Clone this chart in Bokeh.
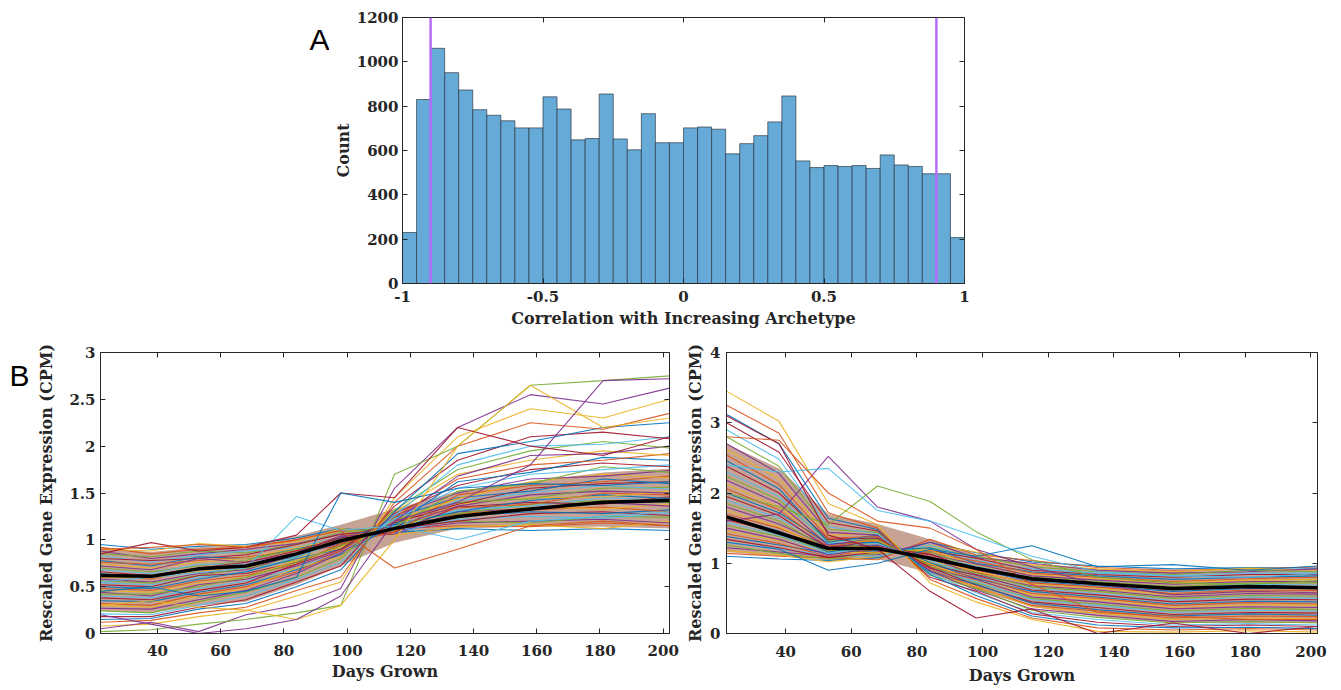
import numpy as np
from bokeh.plotting import figure
from bokeh.layouts import column, row
from bokeh.models import Range1d, LinearAxis, FixedTicker, Label, Span, NumeralTickFormatter
from bokeh.embed import file_html
from bokeh.resources import INLINE

# ---------------- data ----------------
corr_counts = [230, 830, 1061, 951, 873, 784, 759, 734, 702, 702,
               842, 787, 648, 654, 855, 652, 603, 766, 635, 635,
               702, 706, 696, 585, 631, 667, 729, 846, 553, 523,
               532, 528, 532, 519, 580, 535, 528, 495, 495, 207]
corr_range = (-1.0, 1.0)
threshold_lines = [-0.9, 0.9]

days = [22, 38, 53, 68, 84, 98, 115, 135, 158, 181, 202]

increasing_mean = [0.62, 0.61, 0.69, 0.72, 0.85, 0.99, 1.12, 1.25, 1.33, 1.40, 1.42]
# dense core of the gene cloud (lower / upper edge)
increasing_core_low = [0.24, 0.22, 0.30, 0.34, 0.52, 0.72, 0.97, 1.12, 1.14, 1.14, 1.12]
increasing_core_high = [0.92, 0.87, 0.92, 0.94, 1.04, 1.16, 1.33, 1.52, 1.62, 1.72, 1.76]
increasing_genes = [
    [0.95, 0.90, 0.93, 0.95, 1.02, 1.12, 1.08, 1.12, 1.10, 1.12, 1.10],
    [0.92, 0.85, 0.90, 0.92, 1.00, 1.10, 1.12, 1.15, 1.14, 1.18, 1.15],
    [0.90, 0.88, 0.96, 0.93, 0.98, 1.12, 1.05, 1.14, 1.16, 1.12, 1.20],
    [0.88, 0.80, 0.85, 0.90, 0.96, 1.06, 1.10, 1.18, 1.20, 1.22, 1.18],
    [0.85, 0.82, 0.88, 0.86, 0.95, 1.08, 1.14, 1.20, 1.18, 1.25, 1.24],
    [0.83, 0.76, 0.84, 0.88, 0.92, 1.03, 1.08, 1.22, 1.25, 1.23, 1.28],
    [0.80, 0.78, 0.80, 0.84, 0.95, 1.06, 1.12, 1.20, 1.28, 1.30, 1.26],
    [0.78, 0.72, 0.82, 0.80, 0.90, 1.02, 1.16, 1.25, 1.30, 1.28, 1.32],
    [0.76, 0.74, 0.78, 0.82, 0.88, 1.04, 1.10, 1.28, 1.32, 1.35, 1.30],
    [0.74, 0.70, 0.76, 0.80, 0.92, 1.00, 1.14, 1.26, 1.35, 1.33, 1.38],
    [0.72, 0.68, 0.80, 0.76, 0.86, 1.04, 1.06, 1.30, 1.33, 1.40, 1.36],
    [0.70, 0.66, 0.72, 0.78, 0.90, 0.96, 1.18, 1.28, 1.38, 1.42, 1.40],
    [0.68, 0.64, 0.74, 0.74, 0.84, 1.00, 1.12, 1.32, 1.36, 1.45, 1.42],
    [0.66, 0.62, 0.70, 0.76, 0.88, 1.02, 1.08, 1.35, 1.40, 1.38, 1.46],
    [0.64, 0.60, 0.68, 0.72, 0.82, 0.98, 1.16, 1.30, 1.42, 1.48, 1.44],
    [0.62, 0.58, 0.70, 0.70, 0.86, 0.94, 1.20, 1.34, 1.38, 1.50, 1.48],
    [0.60, 0.60, 0.66, 0.72, 0.80, 1.00, 1.10, 1.38, 1.45, 1.46, 1.52],
    [0.58, 0.55, 0.64, 0.68, 0.84, 0.96, 1.14, 1.36, 1.48, 1.52, 1.50],
    [0.56, 0.54, 0.62, 0.70, 0.78, 0.92, 1.22, 1.40, 1.44, 1.55, 1.56],
    [0.54, 0.52, 0.60, 0.66, 0.82, 0.98, 1.12, 1.42, 1.50, 1.58, 1.54],
    [0.52, 0.50, 0.62, 0.64, 0.76, 0.94, 1.18, 1.38, 1.55, 1.60, 1.62],
    [0.50, 0.48, 0.58, 0.66, 0.80, 0.90, 1.24, 1.45, 1.52, 1.65, 1.60],
    [0.48, 0.46, 0.56, 0.62, 0.74, 0.96, 1.08, 1.48, 1.58, 1.62, 1.68],
    [0.46, 0.44, 0.54, 0.60, 0.78, 0.92, 1.20, 1.44, 1.62, 1.70, 1.66],
    [0.44, 0.40, 0.52, 0.58, 0.72, 0.88, 1.26, 1.50, 1.65, 1.68, 1.74],
    [0.42, 0.42, 0.50, 0.60, 0.76, 0.94, 1.14, 1.52, 1.60, 1.78, 1.72],
    [0.40, 0.38, 0.48, 0.56, 0.70, 0.86, 1.22, 1.55, 1.70, 1.75, 1.80],
    [0.38, 0.36, 0.46, 0.54, 0.74, 0.90, 1.28, 1.58, 1.75, 1.82, 1.78],
    [0.35, 0.34, 0.44, 0.52, 0.68, 0.84, 1.16, 1.62, 1.72, 1.88, 1.85],
    [0.32, 0.30, 0.42, 0.50, 0.66, 0.88, 1.24, 1.65, 1.80, 1.85, 1.92],
    [0.30, 0.28, 0.40, 0.48, 0.70, 0.82, 1.30, 1.70, 1.85, 1.95, 1.90],
    [0.27, 0.26, 0.36, 0.46, 0.64, 0.86, 1.20, 1.68, 1.90, 1.92, 2.00],
    [0.24, 0.22, 0.34, 0.44, 0.60, 0.80, 1.32, 1.75, 1.95, 2.05, 1.98],
    [0.21, 0.20, 0.30, 0.40, 0.58, 0.76, 1.26, 1.80, 2.00, 2.02, 2.10],
    [0.18, 0.18, 0.28, 0.36, 0.55, 0.72, 1.36, 1.85, 2.10, 2.15, 2.08],
    [0.15, 0.16, 0.26, 0.32, 0.50, 0.68, 1.30, 1.92, 2.05, 2.20, 2.25],
    [0.12, 0.14, 0.22, 0.28, 0.46, 0.60, 1.40, 2.00, 2.25, 2.18, 2.35],
    [0.08, 0.10, 0.18, 0.24, 0.40, 0.55, 1.45, 2.10, 2.40, 2.30, 2.50],
    [0.05, 0.12, 0.02, 0.20, 0.30, 0.48, 1.55, 2.20, 2.55, 2.45, 2.62],
    [0.02, 0.04, 0.10, 0.15, 0.22, 0.30, 1.70, 2.00, 2.65, 2.70, 2.75],
    [0.55, 0.60, 0.65, 0.70, 1.25, 1.10, 1.15, 1.00, 1.20, 1.25, 1.30],
    [0.85, 0.97, 0.88, 0.92, 1.05, 1.50, 1.45, 2.20, 2.00, 1.90, 2.10],
    [0.45, 0.50, 0.40, 0.45, 0.60, 1.50, 1.40, 1.55, 1.60, 1.58, 1.62],
    [0.90, 0.92, 0.95, 0.92, 1.00, 1.10, 0.70, 0.90, 1.15, 1.20, 1.15],
    [0.30, 0.35, 0.28, 0.25, 0.15, 0.30, 1.00, 2.00, 2.65, 2.20, 2.30],
    [0.20, 0.10, 0.00, 0.05, 0.15, 0.40, 1.20, 1.40, 1.80, 2.70, 2.72],
]

decreasing_mean = [1.66, 1.43, 1.21, 1.21, 1.07, 0.93, 0.78, 0.71, 0.64, 0.67, 0.65]
decreasing_core_low = [1.16, 1.10, 1.04, 1.06, 0.86, 0.62, 0.38, 0.24, 0.15, 0.15, 0.15]
decreasing_core_high = [2.70, 2.35, 1.70, 1.56, 1.34, 1.12, 0.98, 0.92, 0.90, 0.91, 0.92]
decreasing_genes = [
    [1.10, 1.06, 1.04, 1.08, 1.30, 1.15, 1.02, 0.96, 0.92, 0.94, 0.93],
    [1.14, 1.10, 1.08, 1.05, 1.34, 1.12, 1.04, 0.94, 0.90, 0.92, 0.95],
    [1.18, 1.12, 1.02, 1.10, 1.26, 1.16, 0.98, 0.92, 0.88, 0.93, 0.90],
    [1.22, 1.16, 1.10, 1.12, 1.30, 1.08, 1.00, 0.90, 0.86, 0.88, 0.92],
    [1.26, 1.14, 1.06, 1.14, 1.22, 1.10, 0.95, 0.88, 0.84, 0.90, 0.88],
    [1.30, 1.20, 1.12, 1.10, 1.26, 1.04, 0.92, 0.86, 0.82, 0.86, 0.86],
    [1.34, 1.22, 1.08, 1.16, 1.18, 1.07, 0.90, 0.84, 0.80, 0.84, 0.84],
    [1.38, 1.26, 1.14, 1.18, 1.22, 1.00, 0.88, 0.82, 0.77, 0.80, 0.82],
    [1.42, 1.28, 1.10, 1.20, 1.15, 1.03, 0.86, 0.80, 0.74, 0.78, 0.80],
    [1.46, 1.32, 1.16, 1.15, 1.19, 0.97, 0.84, 0.78, 0.72, 0.76, 0.77],
    [1.50, 1.34, 1.12, 1.22, 1.12, 0.99, 0.82, 0.76, 0.70, 0.74, 0.74],
    [1.54, 1.38, 1.18, 1.20, 1.16, 0.93, 0.80, 0.74, 0.67, 0.72, 0.72],
    [1.58, 1.40, 1.14, 1.24, 1.09, 0.96, 0.78, 0.72, 0.64, 0.70, 0.69],
    [1.62, 1.44, 1.20, 1.22, 1.13, 0.90, 0.76, 0.70, 0.62, 0.66, 0.66],
    [1.66, 1.46, 1.16, 1.26, 1.06, 0.92, 0.74, 0.68, 0.60, 0.64, 0.64],
    [1.70, 1.50, 1.22, 1.24, 1.10, 0.87, 0.72, 0.66, 0.57, 0.62, 0.61],
    [1.75, 1.52, 1.18, 1.28, 1.03, 0.89, 0.70, 0.64, 0.55, 0.60, 0.58],
    [1.80, 1.56, 1.24, 1.26, 1.07, 0.84, 0.68, 0.62, 0.52, 0.57, 0.56],
    [1.85, 1.60, 1.20, 1.30, 1.00, 0.86, 0.66, 0.60, 0.50, 0.54, 0.53],
    [1.90, 1.64, 1.26, 1.28, 1.04, 0.81, 0.64, 0.57, 0.47, 0.52, 0.50],
    [1.95, 1.68, 1.22, 1.32, 0.98, 0.83, 0.62, 0.55, 0.45, 0.49, 0.48],
    [2.00, 1.72, 1.28, 1.30, 1.01, 0.78, 0.60, 0.52, 0.42, 0.46, 0.45],
    [2.06, 1.76, 1.24, 1.34, 0.95, 0.80, 0.57, 0.50, 0.40, 0.44, 0.42],
    [2.12, 1.80, 1.30, 1.32, 0.99, 0.75, 0.55, 0.48, 0.37, 0.41, 0.40],
    [2.18, 1.85, 1.26, 1.36, 0.93, 0.77, 0.52, 0.45, 0.35, 0.38, 0.37],
    [2.24, 1.90, 1.32, 1.34, 0.96, 0.72, 0.50, 0.42, 0.32, 0.36, 0.34],
    [2.30, 1.95, 1.28, 1.38, 0.90, 0.74, 0.48, 0.40, 0.30, 0.33, 0.32],
    [2.38, 2.00, 1.34, 1.36, 0.94, 0.69, 0.45, 0.37, 0.27, 0.30, 0.29],
    [2.46, 2.06, 1.30, 1.40, 0.88, 0.70, 0.43, 0.34, 0.25, 0.28, 0.26],
    [2.54, 2.12, 1.36, 1.38, 0.91, 0.66, 0.40, 0.32, 0.22, 0.25, 0.24],
    [2.62, 2.20, 1.40, 1.42, 0.85, 0.67, 0.38, 0.29, 0.20, 0.22, 0.21],
    [2.70, 2.28, 1.44, 1.40, 0.89, 0.62, 0.35, 0.26, 0.17, 0.20, 0.18],
    [2.80, 2.38, 1.48, 1.44, 0.83, 0.64, 0.33, 0.23, 0.15, 0.17, 0.15],
    [2.90, 2.48, 1.52, 1.42, 0.86, 0.58, 0.30, 0.20, 0.12, 0.14, 0.12],
    [3.00, 2.58, 1.58, 1.46, 0.80, 0.60, 0.28, 0.16, 0.10, 0.12, 0.10],
    [3.12, 2.70, 1.64, 1.48, 0.84, 0.54, 0.25, 0.12, 0.08, 0.09, 0.07],
    [3.25, 2.85, 1.72, 1.50, 0.77, 0.50, 0.22, 0.08, 0.05, 0.07, 0.05],
    [3.45, 3.02, 1.85, 1.55, 0.72, 0.45, 0.20, 0.03, 0.02, 0.04, 0.02],
    [1.60, 1.70, 2.52, 1.80, 1.60, 1.20, 0.95, 0.70, 0.55, 0.60, 0.58],
    [2.00, 1.80, 1.55, 2.10, 1.88, 1.45, 1.05, 0.80, 0.72, 0.70, 0.75],
    [2.40, 2.30, 2.35, 1.75, 1.60, 1.38, 1.10, 0.88, 0.82, 0.80, 0.85],
    [3.10, 2.70, 1.40, 1.20, 0.60, 0.22, 0.35, 0.00, 0.15, 0.00, 0.10],
    [1.30, 1.20, 0.90, 1.00, 1.20, 1.10, 1.25, 0.95, 0.98, 0.90, 0.96],
    [2.80, 2.75, 2.00, 1.60, 1.50, 1.20, 0.70, 0.30, 0.25, 0.20, 0.20],
]

# ---------------- style ----------------
TXT = "#262626"
FONT = "DejaVu Serif"
PALETTE = ["#0072BD", "#D95319", "#EDB120", "#7E2F8E", "#77AC30", "#4DBEEE", "#A2142F"]
CORE_FILL = "#A0654F"


def style_axes(p, xticks, yticks, xlabel, ylabel, x_fmt, y_fmt,
               x_lab_std=5, y_lab_std=5, x_tick_std=7, y_tick_std=5):
    p.xgrid.grid_line_color = None
    p.ygrid.grid_line_color = None
    p.outline_line_color = TXT
    p.outline_line_width = 1
    p.outline_line_alpha = 1
    for ax, ticks, lab, fmt, lstd, tstd in ((p.below[0], xticks, xlabel, x_fmt, x_lab_std, x_tick_std),
                                            (p.left[0], yticks, ylabel, y_fmt, y_lab_std, y_tick_std)):
        ax.ticker = FixedTicker(ticks=ticks)
        ax.formatter = fmt
        ax.axis_label = lab
        ax.axis_label_text_font = FONT
        ax.axis_label_text_font_style = "bold"
        ax.axis_label_text_font_size = "16px"
        ax.axis_label_text_color = TXT
        ax.axis_label_standoff = lstd
        ax.major_label_text_font = FONT
        ax.major_label_text_font_style = "bold"
        ax.major_label_text_font_size = "15px"
        ax.major_label_text_color = TXT
        ax.major_label_standoff = tstd
        ax.major_tick_in = 5
        ax.major_tick_out = 0
        ax.major_tick_line_color = TXT
        ax.minor_tick_line_color = None
        ax.axis_line_color = TXT
    # mirrored tick marks on top / right (box style), labels not drawn
    for loc, ticks in (("above", xticks), ("right", yticks)):
        m = LinearAxis(ticker=FixedTicker(ticks=ticks), major_label_text_color=None,
                       major_label_text_font_size="1px",
                       major_label_standoff=0, major_tick_in=5, major_tick_out=0,
                       major_tick_line_color=TXT, minor_tick_line_color=None,
                       axis_line_color=None)
        p.add_layout(m, loc)


def letter_figure(letter, w, h, sx, sy):
    """Blank strip holding a panel letter.
    Its frame is aligned with its row neighbour; sx, sy are pixels from the frame's lower-left."""
    f = figure(width=w, height=h, x_range=Range1d(0, 1), y_range=Range1d(0, 1),
               x_axis_type=None, y_axis_type=None, output_backend="svg",
               toolbar_location=None, min_border=0, outline_line_color=None)
    f.xgrid.grid_line_color = None
    f.ygrid.grid_line_color = None
    f.add_layout(Label(x=sx, y=sy, x_units="screen", y_units="screen", text=letter,
                       text_font="Liberation Sans", text_font_size="30px",
                       text_color="#000000", text_align="left",
                       text_baseline="alphabetic"))
    return f


TOP_H, BOT_H = 335, 355
A_W, B_W = 329, 34

# ---------------- panel A: histogram ----------------
# frame of the top row spans page y 17..283 -> baseline of "A" 39 px from top
figA = letter_figure("A", A_W, TOP_H, 309, 283 - 39)
pA = figure(width=1341 - A_W, height=TOP_H, x_range=Range1d(*corr_range), y_range=Range1d(0, 1200),
            output_backend="svg", toolbar_location=None,
            min_border_left=402 - A_W, min_border_right=377, min_border_top=17, min_border_bottom=52)
edges = np.linspace(corr_range[0], corr_range[1], len(corr_counts) + 1)
pA.quad(left=edges[:-1], right=edges[1:], bottom=0, top=corr_counts,
        fill_color="#66AAD7", line_color="#2A3640", line_width=0.8, line_alpha=0.85)
for t in threshold_lines:
    pA.add_layout(Span(location=t, dimension="height", line_color="#B56CFA", line_width=2.5))
style_axes(pA, [-1, -0.5, 0, 0.5, 1], [0, 200, 400, 600, 800, 1000, 1200],
           "Correlation with Increasing Archetype", "Count",
           NumeralTickFormatter(format="0.[0]"), NumeralTickFormatter(format="0"),
           x_lab_std=4, y_lab_std=1, x_tick_std=7, y_tick_std=4)

# ---------------- panel B left: increasing ----------------
# frame of the bottom row spans page y 352..633 -> baseline of "B" at 375
figB = letter_figure("B", B_W, BOT_H, 9, 633 - 375)
pB1 = figure(width=680 - B_W, height=BOT_H, x_range=Range1d(days[0], days[-1]), y_range=Range1d(0, 3),
             output_backend="svg", toolbar_location=None,
             min_border_left=100 - B_W, min_border_right=11, min_border_top=17, min_border_bottom=57)
pB1.varea(x=days, y1=increasing_core_low, y2=increasing_core_high,
          fill_color=CORE_FILL, fill_alpha=0.6)
cols1 = [PALETTE[i % len(PALETTE)] for i in range(len(increasing_genes))]
pB1.multi_line(xs=[days] * len(increasing_genes), ys=increasing_genes, line_color=cols1,
               line_width=1.1, line_alpha=0.9)
pB1.line(days, increasing_mean, line_color="black", line_width=3.5)
style_axes(pB1, [40, 60, 80, 100, 120, 140, 160, 180, 200], [0, 0.5, 1, 1.5, 2, 2.5, 3],
           "Days Grown", "Rescaled Gene Expression (CPM)",
           NumeralTickFormatter(format="0"), NumeralTickFormatter(format="0.[0]"),
           x_lab_std=3, y_lab_std=10, x_tick_std=11, y_tick_std=5)

# ---------------- panel B right: decreasing ----------------
pB2 = figure(width=661, height=BOT_H, x_range=Range1d(days[0], days[-1]), y_range=Range1d(0, 4),
             output_backend="svg", toolbar_location=None,
             min_border_left=46, min_border_right=24, min_border_top=17, min_border_bottom=54)
pB2.varea(x=days, y1=decreasing_core_low, y2=decreasing_core_high,
          fill_color=CORE_FILL, fill_alpha=0.6)
cols2 = [PALETTE[i % len(PALETTE)] for i in range(len(decreasing_genes))]
pB2.multi_line(xs=[days] * len(decreasing_genes), ys=decreasing_genes, line_color=cols2,
               line_width=1.1, line_alpha=0.9)
pB2.line(days, decreasing_mean, line_color="black", line_width=3.5)
style_axes(pB2, [40, 60, 80, 100, 120, 140, 160, 180, 200], [0, 1, 2, 3, 4],
           "Days Grown", "Rescaled Gene Expression (CPM)",
           NumeralTickFormatter(format="0"), NumeralTickFormatter(format="0"),
           x_lab_std=6, y_lab_std=2, x_tick_std=12, y_tick_std=6)

layout = column(row(figA, pA), row(figB, pB1, pB2))
open("out.html", "w").write(file_html(layout, INLINE))
